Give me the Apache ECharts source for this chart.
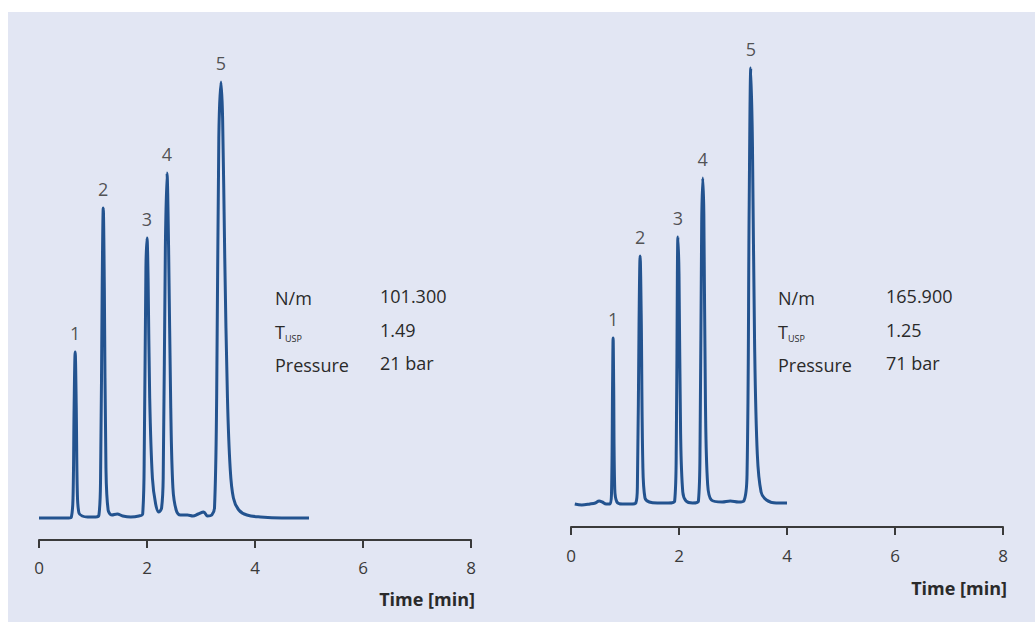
<!DOCTYPE html>
<html>
<head>
<meta charset="utf-8">
<script src="https://cdn.jsdelivr.net/npm/echarts@6/dist/echarts.min.js"></script>
<style>
  html, body { margin: 0; padding: 0; background: #fff; }
  .wrap { position: relative; width: 1035px; height: 622px; background: #fff; }
  .panel { position: absolute; left: 8px; top: 12px; right: 0; bottom: 0; background: #e2e6f3; }
  #chart { position: absolute; left: 0; top: 0; width: 1035px; height: 622px; }
</style>
</head>
<body>
<div class="wrap"><div class="panel"></div><div id="chart"></div></div>
<script>
// x ticks (min)
var timeTicks = [0, 2, 4, 6, 8];

// left run: [time min, signal]
var traceLeft = [
  [0, 0], [0.3, 0], [0.55, 0], [0.6, 1], [0.63, 20], [0.65, 110], [0.67, 166], [0.69, 110], [0.71, 25], [0.74, 5], [0.8, 2], [0.9, 1],
  [1.05, 1], [1.11, 3], [1.14, 40], [1.17, 230], [1.19, 310], [1.21, 230], [1.24, 50], [1.28, 8], [1.35, 3], [1.45, 4], [1.55, 2], [1.7, 1], [1.85, 2],
  [1.92, 4], [1.95, 70], [1.98, 250], [2.0, 280], [2.02, 240], [2.05, 120], [2.1, 40], [2.16, 14], [2.22, 6], [2.27, 10],
  [2.3, 40], [2.34, 270], [2.37, 345], [2.4, 270], [2.44, 110], [2.48, 30], [2.54, 8], [2.62, 3], [2.75, 3], [2.85, 2], [2.95, 4], [3.05, 6], [3.12, 2], [3.2, 3],
  [3.25, 10], [3.29, 120], [3.33, 380], [3.37, 436], [3.4, 400], [3.44, 260], [3.49, 120], [3.54, 50], [3.6, 20], [3.7, 8], [3.85, 3], [4.1, 1], [4.5, 0], [5.0, 0]
];

// right run
var traceRight = [
  [0.07, 0], [0.2, -1], [0.35, 0], [0.45, 1], [0.52, 3], [0.58, 2], [0.65, 0], [0.72, 0],
  [0.75, 10], [0.77, 120], [0.78, 166], [0.79, 120], [0.81, 15], [0.85, 2], [0.95, 0], [1.1, 0], [1.2, 1],
  [1.23, 20], [1.26, 180], [1.28, 248], [1.3, 190], [1.33, 40], [1.37, 6], [1.45, 2], [1.6, 1], [1.8, 1], [1.92, 3],
  [1.95, 60], [1.97, 230], [1.98, 267], [2.0, 230], [2.03, 70], [2.07, 12], [2.13, 3], [2.25, 1], [2.36, 3],
  [2.39, 60], [2.42, 280], [2.44, 326], [2.46, 290], [2.49, 100], [2.53, 20], [2.6, 4], [2.8, 2], [2.95, 3], [3.1, 2], [3.2, 3],
  [3.26, 30], [3.3, 300], [3.33, 436], [3.36, 360], [3.4, 160], [3.45, 50], [3.52, 12], [3.62, 4], [3.8, 1], [4.0, 1]
];

// peak labels
var peakNames = ['1', '2', '3', '4', '5'];
var peakTimesLeft = [0.67, 1.19, 2.0, 2.37, 3.37];
var peakHeightsLeft = [166, 310, 280, 345, 436];
var peakTimesRight = [0.78, 1.28, 1.98, 2.44, 3.33];
var peakHeightsRight = [166, 248, 267, 326, 436];

// stats
var statNames = ['N/m', 'T', 'Pressure'];
var statsLeft = ['101.300', '1.49', '21 bar'];
var statsRight = ['165.900', '1.25', '71 bar'];

var FONT = 'Open Sans';
var TXT = '#2a2a2a';
var lineColor = '#23538f';

var chart = echarts.init(document.getElementById('chart'), null, { renderer: 'svg' });

function timeAxis(idx, labelMargin, namePad) {
  return {
    type: 'value', gridIndex: idx, min: 0, max: 8, interval: 2,
    axisLine: { show: true, onZero: false, lineStyle: { color: '#3a3a3a', width: 2 } },
    axisTick: { show: true, length: 8, lineStyle: { color: '#3a3a3a', width: 2 } },
    axisLabel: {
      color: '#3a3a3a', fontSize: 17, fontFamily: FONT, margin: labelMargin,
      showMinLabel: true, showMaxLabel: true,
      formatter: function (v) { return timeTicks.indexOf(v) >= 0 ? String(v) : ''; }
    },
    splitLine: { show: false },
    name: 'Time [min]', nameLocation: 'end', nameGap: 4,
    nameTextStyle: {
      fontWeight: 'bold', fontSize: 18, color: TXT, fontFamily: FONT,
      align: 'right', verticalAlign: 'top', padding: [namePad, 0, 0, 0]
    }
  };
}

function signalAxis(idx, mn, mx) {
  return { type: 'value', gridIndex: idx, min: mn, max: mx, show: false, splitLine: { show: false } };
}

function peakPoints(times, heights) {
  return times.map(function (t, i) { return [t, heights[i]]; });
}

function peakLabelSeries(idx, times, heights) {
  return {
    type: 'scatter', xAxisIndex: idx, yAxisIndex: idx,
    data: peakPoints(times, heights),
    symbolSize: 1, itemStyle: { color: 'rgba(0,0,0,0)' },
    silent: true,
    label: {
      show: true, position: 'top', distance: 10,
      color: TXT, fontSize: 18, fontFamily: FONT,
      formatter: function (p) { return peakNames[p.dataIndex]; }
    }
  };
}

function statGraphics(x1, x2, values) {
  var rows = [296, 330, 363];
  var out = [];
  statNames.forEach(function (n, i) {
    var txt = n === 'T' ? '{t|T}{s|USP}' : '{t|' + n + '}';
    out.push({
      type: 'text', x: x1, y: rows[i],
      style: {
        text: txt, verticalAlign: 'middle', fill: TXT,
        rich: {
          t: { fontSize: 18, fontFamily: FONT, color: TXT, verticalAlign: 'bottom', lineHeight: 22 },
          s: { fontSize: 9, fontFamily: FONT, color: TXT, verticalAlign: 'bottom', lineHeight: 22, padding: [0, 0, -2, 0] }
        }
      }
    });
    out.push({
      type: 'text', x: x2, y: rows[i],
      style: { text: values[i], fontSize: 18, fontFamily: FONT, fill: TXT, verticalAlign: 'middle' }
    });
  });
  return out;
}

var option = {
  animation: false,
  backgroundColor: 'transparent',
  grid: [
    { left: 39, right: 564, top: 60, bottom: 82 },
    { left: 571, right: 32, top: 47, bottom: 95 }
  ],
  xAxis: [timeAxis(0, 19, 50), timeAxis(1, 20, 52)],
  yAxis: [signalAxis(0, -22, 458), signalAxis(1, -23, 457)],
  series: [
    {
      type: 'line', xAxisIndex: 0, yAxisIndex: 0, data: traceLeft,
      showSymbol: false, smooth: 0.35, silent: true,
      lineStyle: { color: lineColor, width: 3 }
    },
    {
      type: 'line', xAxisIndex: 1, yAxisIndex: 1, data: traceRight,
      showSymbol: false, smooth: 0.35, silent: true,
      lineStyle: { color: lineColor, width: 3 }
    },
    peakLabelSeries(0, peakTimesLeft, peakHeightsLeft),
    peakLabelSeries(1, peakTimesRight, peakHeightsRight)
  ],
  graphic: statGraphics(275, 380, statsLeft).concat(statGraphics(778, 886, statsRight))
};

chart.setOption(option);
</script>
</body>
</html>
